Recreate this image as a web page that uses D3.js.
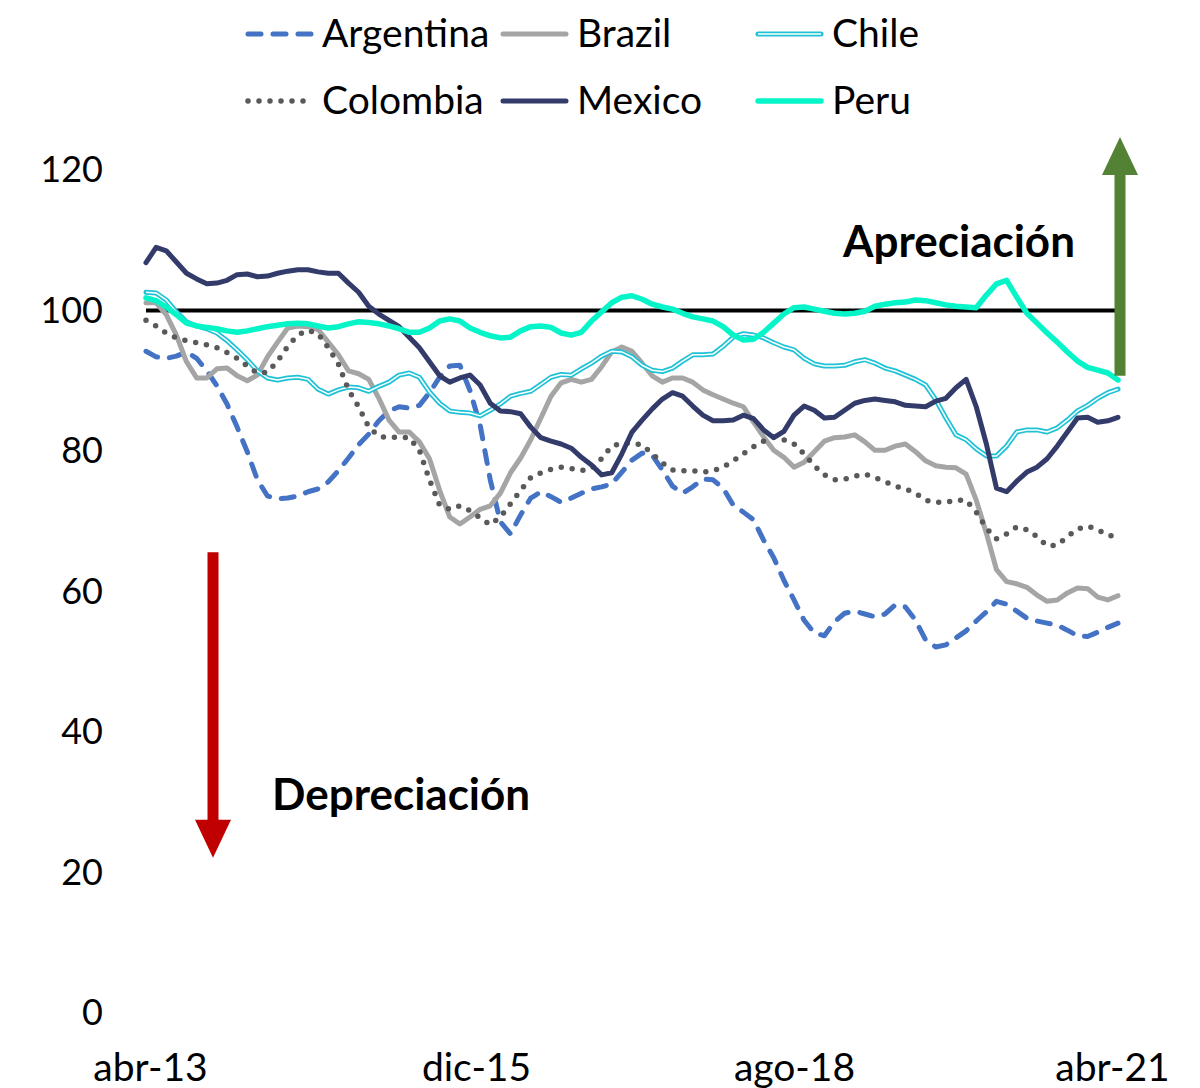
<!DOCTYPE html>
<html>
<head>
<meta charset="utf-8">
<script src="https://cdn.jsdelivr.net/npm/d3@7"></script>
<style>
  body { margin: 0; background: #fff; }
  text { font-family: Lato, "Noto Sans", sans-serif; }
</style>
</head>
<body>
<div id="vis"></div>
<script>
// monthly index, abr-13 .. abr-21
const tickIndex = [0, 32, 64, 96];
const tickLabels = ["abr-13", "dic-15", "ago-18", "abr-21"];
const yTicks = [0, 20, 40, 60, 80, 100, 120];

const argentina = [94.2,93.4,93.2,93.5,94.1,93.2,91.4,89.3,86.7,83.4,
  79.9,75.9,73.6,73.2,73.3,73.6,74.2,74.6,75.6,77.2,
  79.0,80.9,82.4,84.3,85.7,86.3,86.1,86.5,88.3,90.5,
  92.1,92.2,88.6,83.7,75.9,69.9,68.2,70.9,73.3,74.2,
  73.5,72.7,73.3,74.0,74.6,74.9,75.3,77.0,78.7,79.7,
  79.4,77.3,75.0,74.0,74.9,76.0,75.9,74.7,72.3,71.3,
  70.2,67.3,64.8,61.6,58.8,55.9,54.1,53.7,55.7,56.9,
  57.2,56.8,56.4,56.8,58.1,57.8,55.9,53.1,52.1,52.4,
  53.4,54.4,55.8,57.1,58.6,58.2,57.2,56.2,55.8,55.5,
  55.2,54.5,53.7,53.6,54.2,54.9,55.5];

const brazil = [101.1,101.1,99.4,96.5,92.7,90.4,90.4,91.7,91.8,90.7,
  90.0,90.8,93.4,95.5,97.5,97.8,97.7,97.3,95.5,93.7,
  91.4,91.0,90.2,87.5,84.4,82.7,82.7,81.3,78.9,74.4,
  70.6,69.6,70.6,71.7,72.2,74.0,76.9,79.0,81.6,84.7,
  87.8,89.7,90.2,89.8,90.2,92.0,94.1,94.8,94.2,92.5,
  90.7,89.8,90.4,90.4,89.8,88.7,88.0,87.4,86.8,86.3,
  84.1,82.0,80.1,79.1,77.7,78.4,79.9,81.4,81.9,82.0,
  82.3,81.3,80.1,80.1,80.7,81.0,79.9,78.6,77.9,77.7,
  77.6,76.7,73.0,68.3,63.1,61.4,61.1,60.6,59.5,58.6,
  58.8,59.8,60.5,60.4,59.2,58.8,59.4];

const chile = [102.6,102.5,101.5,99.8,98.4,97.8,97.4,96.8,95.7,94.4,
  93.0,91.4,90.4,90.1,90.4,90.5,90.2,88.8,88.1,88.7,
  89.1,89.0,88.5,89.2,89.8,90.8,91.1,90.5,88.4,86.8,
  85.7,85.5,85.4,85.0,85.8,86.7,87.8,88.2,88.5,89.5,
  90.5,90.9,90.8,91.7,92.5,93.5,94.2,94.1,93.4,92.2,
  91.5,91.3,91.8,92.8,93.7,93.7,93.8,94.9,96.2,96.7,
  96.5,96.1,95.4,94.8,94.4,93.2,92.4,92.1,92.1,92.2,
  92.7,93.0,92.5,91.8,91.4,90.8,90.2,89.4,87.3,84.7,
  82.3,81.6,80.3,79.3,79.3,80.7,82.7,83.0,83.0,82.7,
  83.3,84.4,85.7,86.5,87.5,88.3,88.8];

const colombia = [98.6,97.8,96.8,96.1,95.7,95.4,95.1,94.7,94.0,93.2,
  92.1,91.1,91.2,92.8,94.9,96.5,97.2,96.7,94.7,92.4,
  88.7,86.3,83.4,82.1,81.9,82.0,81.9,80.1,75.9,72.3,
  71.7,72.2,71.5,70.5,69.5,70.6,72.5,74.4,76.2,76.9,
  77.4,77.7,77.5,77.2,77.5,78.9,80.7,81.1,81.1,80.9,
  79.6,78.3,77.3,77.2,77.2,77.0,77.2,77.7,78.6,79.6,
  80.6,81.4,82.0,81.6,81.0,79.6,77.9,76.6,75.9,76.0,
  76.4,76.7,76.2,75.6,75.0,74.6,74.0,73.0,72.7,72.7,
  73.0,73.0,71.3,69.0,67.5,68.2,69.2,68.8,67.8,66.5,
  66.6,67.8,68.9,69.3,68.8,68.0,67.8];

const mexico = [106.8,109.0,108.5,106.9,105.3,104.5,103.8,103.9,104.3,105.1,
  105.2,104.8,104.9,105.3,105.6,105.8,105.8,105.5,105.3,105.3,
  103.9,102.6,100.6,99.5,98.6,97.7,96.2,94.7,92.7,90.7,
  89.8,90.4,90.8,89.4,86.8,85.7,85.6,85.3,83.4,81.9,
  81.4,81.0,80.4,79.1,78.0,76.6,76.9,79.6,82.7,84.4,
  86.0,87.4,88.3,87.8,86.4,85.1,84.3,84.3,84.4,85.1,
  84.6,83.0,81.9,82.8,85.1,86.4,85.8,84.7,84.8,85.8,
  86.8,87.2,87.4,87.2,87.0,86.5,86.4,86.3,87.1,87.5,
  89.0,90.2,86.3,81.0,74.7,74.2,75.7,77.0,77.7,78.9,
  80.7,82.7,84.7,84.8,84.1,84.3,84.8];

const peru = [101.8,101.4,100.5,99.4,98.2,97.8,97.6,97.4,97.1,96.9,
  97.1,97.4,97.7,97.9,98.1,98.2,98.1,97.8,97.5,97.7,
  98.1,98.4,98.3,98.1,97.8,97.4,96.9,96.9,97.5,98.5,
  98.8,98.5,97.5,96.9,96.4,96.1,96.2,97.1,97.7,97.8,
  97.6,96.8,96.5,96.9,98.5,99.8,101.1,101.9,102.1,101.6,
  100.9,100.5,100.2,99.6,99.1,98.8,98.5,97.7,96.5,95.8,
  95.9,96.9,98.2,99.5,100.4,100.5,100.2,99.9,99.6,99.5,
  99.6,99.9,100.6,100.9,101.1,101.2,101.5,101.4,101.1,100.8,
  100.6,100.5,100.4,102.2,103.8,104.3,101.9,99.6,98.2,96.8,
  95.5,94.1,92.8,91.9,91.5,91.1,90.1];

const baseline = 100;
// annotation arrows, in data units: [top, bottom]
const upArrow = [124.7, 90.7];
const downArrow = [65.6, 22.1];

const series = [
  {name: "Argentina", values: argentina, color: "#4472C4", width: 5, dash: "13 12"},
  {name: "Brazil", values: brazil, color: "#A5A5A5", width: 5},
  {name: "Chile", values: chile, color: "#20C2D6", width: 5, inner: "#fff"},
  {name: "Colombia", values: colombia, color: "#595959", width: 5.5, dash: "0 11"},
  {name: "Mexico", values: mexico, color: "#323B6A", width: 5},
  {name: "Peru", values: peru, color: "#05F5C9", width: 5.5}
];

const W = 1200, H = 1088;
const svg = d3.select("#vis").append("svg")
  .attr("width", W).attr("height", H);

const x = d3.scaleLinear().domain([0, 96]).range([146, 1118]);
const y = d3.scaleLinear().domain([0, 120]).range([1013, 170]);

////////// axes //////////

const yAxis = svg.append("g")
  .attr("transform", "translate(146,0)")
  .call(d3.axisLeft(y).tickValues(yTicks).tickSize(0).tickPadding(43));

const xAxis = svg.append("g")
  .attr("transform", "translate(0,1013)")
  .call(d3.axisBottom(x).tickValues(tickIndex).tickSize(0).tickPadding(40)
    .tickFormat((d, i) => tickLabels[i]));

[yAxis, xAxis].forEach(g => {
  g.select(".domain").remove();
  g.selectAll("text")
    .style("font-family", "Lato, 'Noto Sans', sans-serif")
    .attr("fill", "#000");
});
yAxis.selectAll("text").style("font-size", "36px");
xAxis.selectAll("text").style("font-size", "39px")
  .attr("dx", (d, i) => [4, 6, 0, -6][i]);

////////// lines //////////

const line = d3.line()
  .x((d, i) => x(i))
  .y(d => y(d));

svg.append("line")
  .attr("x1", x(0)).attr("x2", x(96) + 2)
  .attr("y1", y(baseline)).attr("y2", y(baseline))
  .attr("stroke", "#000").attr("stroke-width", 4);

series.forEach(s => {
  svg.append("path")
    .datum(s.values)
    .attr("fill", "none")
    .attr("stroke", s.color)
    .attr("stroke-width", s.width)
    .attr("stroke-linejoin", "round")
    .attr("stroke-linecap", "round")
    .attr("stroke-dasharray", s.dash || null)
    .attr("d", line);
  if (s.inner) {
    svg.append("path")
      .datum(s.values)
      .attr("fill", "none")
      .attr("stroke", s.inner)
      .attr("stroke-width", 1.5)
      .attr("stroke-linejoin", "round")
      .attr("d", line);
  }
});

////////// arrows //////////

function arrow(top, bottom, color, pointUp) {
  const cx = pointUp ? 1120 : 213;
  const sw = 5.5, hw = 18, hl = 38;
  let pts;
  if (pointUp) {
    pts = [[cx, top], [cx + hw, top + hl], [cx + sw, top + hl], [cx + sw, bottom],
           [cx - sw, bottom], [cx - sw, top + hl], [cx - hw, top + hl]];
  } else {
    pts = [[cx - sw, top], [cx + sw, top], [cx + sw, bottom - hl], [cx + hw, bottom - hl],
           [cx, bottom], [cx - hw, bottom - hl], [cx - sw, bottom - hl]];
  }
  svg.append("polygon")
    .attr("points", pts.map(p => p.join(",")).join(" "))
    .attr("fill", color);
}
arrow(y(upArrow[0]), y(upArrow[1]), "#548235", true);
arrow(y(downArrow[0]), y(downArrow[1]), "#C00000", false);

svg.append("text")
  .attr("x", 843).attr("y", 257)
  .style("font-size", "44px").style("font-weight", "bold")
  .text("Apreciación");

svg.append("text")
  .attr("x", 272).attr("y", 810)
  .style("font-size", "44px").style("font-weight", "bold")
  .text("Depreciación");

////////// legend //////////

const legendX = [245, 500, 755];
const legendY = [34, 101];

const legend = svg.append("g").attr("class", "legend");
series.forEach((s, i) => {
  const lx = legendX[i % 3], ly = legendY[Math.floor(i / 3)];
  const g = legend.append("g").attr("transform", `translate(${lx},${ly})`);
  g.append("line")
    .attr("x1", 3).attr("x2", 66)
    .attr("stroke", s.color)
    .attr("stroke-width", s.width)
    .attr("stroke-linecap", "round")
    .attr("stroke-dasharray", s.dash || null);
  if (s.inner) {
    g.append("line").attr("x1", 3).attr("x2", 66)
      .attr("stroke", s.inner).attr("stroke-width", 1.5);
  }
  g.append("text")
    .attr("x", 77).attr("y", 13)
    .style("font-size", "39px")
    .text(s.name);
});
</script>
</body>
</html>
